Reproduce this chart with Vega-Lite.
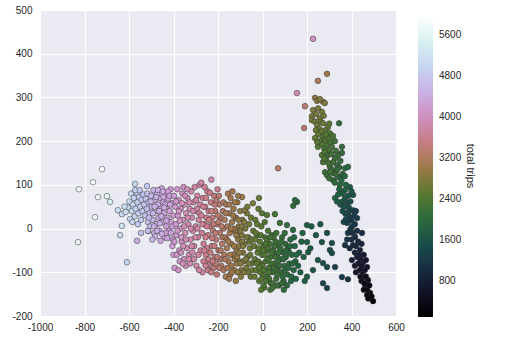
{
"$schema": "https://vega.github.io/schema/vega-lite/v6.json",
"autosize": {"type": "none"},
"padding": {"left": 40, "top": 10, "right": 110, "bottom": 39},
"width": 356,
"height": 306,
"background": "white",
"config": {
  "view": {"fill": "#EAEAF2", "stroke": null},
  "axis": {"domain": false, "ticks": false, "tickSize": 0, "grid": true, "gridColor": "#FFFFFF", "gridWidth": 1, "labelFont": "Liberation Sans", "labelFontSize": 10, "labelColor": "#262626", "title": null},
  "legend": {"labelFont": "Liberation Sans", "labelFontSize": 10, "labelColor": "#262626", "titleFont": "Liberation Sans", "titleFontSize": 11, "titleFontWeight": "normal", "titleColor": "#262626"}
},
"data": {"values": [
{"pc1":-721,"pc2":136,"trips":5950},{"pc1":-762,"pc2":106,"trips":5900},{"pc1":-825,"pc2":90,"trips":5850},{"pc1":-739,"pc2":72,"trips":5800},{"pc1":-699,"pc2":74,"trips":5650},{"pc1":-685,"pc2":61,"trips":5500},{"pc1":-753,"pc2":26,"trips":5800},{"pc1":-829,"pc2":-31,"trips":5750},{"pc1":-609,"pc2":-77,"trips":5000},{"pc1":-573,"pc2":102,"trips":5100},{"pc1":-519,"pc2":97,"trips":4800},{"pc1":-632,"pc2":6,"trips":5200},{"pc1":-640,"pc2":-15,"trips":5100},{"pc1":-564,"pc2":-28,"trips":4450},{"pc1":-546,"pc2":-10,"trips":4700},{"pc1":-514,"pc2":-6,"trips":4600},{"pc1":-650,"pc2":42,"trips":5200},{"pc1":-632,"pc2":33,"trips":5100},
{"pc1":-605,"pc2":48,"trips":5150},{"pc1":-598,"pc2":62,"trips":5100},{"pc1":-590,"pc2":80,"trips":5050},{"pc1":-588,"pc2":40,"trips":5100},{"pc1":-582,"pc2":55,"trips":5000},{"pc1":-578,"pc2":70,"trips":5000},{"pc1":-575,"pc2":28,"trips":5050},{"pc1":-570,"pc2":45,"trips":4950},{"pc1":-566,"pc2":82,"trips":4900},{"pc1":-562,"pc2":60,"trips":4950},{"pc1":-558,"pc2":35,"trips":4900},{"pc1":-555,"pc2":72,"trips":4850},{"pc1":-550,"pc2":50,"trips":4900},{"pc1":-546,"pc2":20,"trips":4850},{"pc1":-543,"pc2":66,"trips":4800},{"pc1":-540,"pc2":40,"trips":4800},{"pc1":-536,"pc2":78,"trips":4750},{"pc1":-532,"pc2":55,"trips":4750},{"pc1":-528,"pc2":30,"trips":4700},{"pc1":-525,"pc2":68,"trips":4700},{"pc1":-620,"pc2":50,"trips":5200},{"pc1":-615,"pc2":38,"trips":5150},{"pc1":-595,"pc2":22,"trips":5050},{"pc1":-585,"pc2":15,"trips":5000},{"pc1":-572,"pc2":88,"trips":4950},{"pc1":-560,"pc2":10,"trips":4850},{"pc1":-552,"pc2":88,"trips":4800},{"pc1":-520,"pc2":45,"trips":4650},{"pc1":-518,"pc2":80,"trips":4650},{"pc1":-515,"pc2":15,"trips":4650},
{"pc1":-512,"pc2":60,"trips":4650},{"pc1":-508,"pc2":35,"trips":4600},{"pc1":-505,"pc2":5,"trips":4600},{"pc1":-500,"pc2":75,"trips":4600},{"pc1":-497,"pc2":50,"trips":4550},{"pc1":-494,"pc2":20,"trips":4550},{"pc1":-490,"pc2":88,"trips":4550},{"pc1":-487,"pc2":-10,"trips":4500},{"pc1":-484,"pc2":65,"trips":4500},{"pc1":-480,"pc2":40,"trips":4500},{"pc1":-477,"pc2":10,"trips":4450},{"pc1":-473,"pc2":80,"trips":4450},{"pc1":-470,"pc2":55,"trips":4450},{"pc1":-467,"pc2":25,"trips":4400},{"pc1":-463,"pc2":-5,"trips":4400},{"pc1":-460,"pc2":70,"trips":4400},{"pc1":-457,"pc2":45,"trips":4400},{"pc1":-453,"pc2":92,"trips":4350},{"pc1":-450,"pc2":15,"trips":4350},{"pc1":-447,"pc2":60,"trips":4350},{"pc1":-443,"pc2":35,"trips":4350},{"pc1":-440,"pc2":-20,"trips":4300},{"pc1":-437,"pc2":80,"trips":4300},{"pc1":-433,"pc2":5,"trips":4300},{"pc1":-430,"pc2":50,"trips":4300},{"pc1":-427,"pc2":25,"trips":4250},{"pc1":-423,"pc2":68,"trips":4250},{"pc1":-420,"pc2":-5,"trips":4250},{"pc1":-417,"pc2":40,"trips":4250},{"pc1":-413,"pc2":90,"trips":4200},{"pc1":-410,"pc2":15,"trips":4200},{"pc1":-407,"pc2":58,"trips":4200},{"pc1":-403,"pc2":-25,"trips":4150},{"pc1":-400,"pc2":30,"trips":4150},{"pc1":-482,"pc2":-18,"trips":4450},{"pc1":-458,"pc2":-28,"trips":4350},{"pc1":-470,"pc2":88,"trips":4450},{"pc1":-445,"pc2":72,"trips":4350},{"pc1":-435,"pc2":-10,"trips":4300},{"pc1":-425,"pc2":85,"trips":4250},{"pc1":-495,"pc2":-25,"trips":4550},{"pc1":-515,"pc2":-5,"trips":4650},
{"pc1":-510,"pc2":25,"trips":4600},{"pc1":-502,"pc2":62,"trips":4550},{"pc1":-492,"pc2":35,"trips":4550},{"pc1":-488,"pc2":5,"trips":4500},{"pc1":-478,"pc2":72,"trips":4500},{"pc1":-474,"pc2":-5,"trips":4450},{"pc1":-465,"pc2":40,"trips":4450},{"pc1":-455,"pc2":28,"trips":4400},{"pc1":-452,"pc2":-12,"trips":4400},{"pc1":-448,"pc2":85,"trips":4400},{"pc1":-438,"pc2":55,"trips":4350},{"pc1":-432,"pc2":18,"trips":4350},{"pc1":-428,"pc2":-22,"trips":4350},{"pc1":-418,"pc2":75,"trips":4300},{"pc1":-415,"pc2":55,"trips":4300},{"pc1":-412,"pc2":-10,"trips":4300},{"pc1":-405,"pc2":5,"trips":4250},{"pc1":-462,"pc2":12,"trips":4450},{"pc1":-485,"pc2":50,"trips":4500},{"pc1":-442,"pc2":48,"trips":4400},
{"pc1":-405,"pc2":-40,"trips":4250},{"pc1":-400,"pc2":-60,"trips":4200},{"pc1":-395,"pc2":-90,"trips":4150},{"pc1":-398,"pc2":75,"trips":4200},{"pc1":-392,"pc2":50,"trips":4150},{"pc1":-390,"pc2":10,"trips":4150},{"pc1":-387,"pc2":-15,"trips":4150},{"pc1":-383,"pc2":90,"trips":4100},{"pc1":-380,"pc2":30,"trips":4100},{"pc1":-377,"pc2":65,"trips":4100},{"pc1":-374,"pc2":-50,"trips":4050},{"pc1":-370,"pc2":0,"trips":4050},{"pc1":-367,"pc2":45,"trips":4050},{"pc1":-363,"pc2":-30,"trips":4050},{"pc1":-360,"pc2":80,"trips":4000},{"pc1":-357,"pc2":20,"trips":4000},{"pc1":-353,"pc2":-70,"trips":4000},{"pc1":-350,"pc2":55,"trips":4000},{"pc1":-347,"pc2":-10,"trips":3950},{"pc1":-343,"pc2":35,"trips":3950},{"pc1":-340,"pc2":-45,"trips":3950},{"pc1":-337,"pc2":70,"trips":3950},{"pc1":-333,"pc2":10,"trips":3900},{"pc1":-330,"pc2":-60,"trips":3900},{"pc1":-327,"pc2":45,"trips":3900},{"pc1":-323,"pc2":-25,"trips":3900},{"pc1":-320,"pc2":85,"trips":3850},{"pc1":-317,"pc2":25,"trips":3850},{"pc1":-313,"pc2":-5,"trips":3850},{"pc1":-310,"pc2":60,"trips":3850},{"pc1":-307,"pc2":-40,"trips":3800},{"pc1":-303,"pc2":40,"trips":3800},{"pc1":-300,"pc2":5,"trips":3800},{"pc1":-297,"pc2":-85,"trips":3800},{"pc1":-293,"pc2":75,"trips":3750},{"pc1":-290,"pc2":-20,"trips":3750},{"pc1":-287,"pc2":20,"trips":3750},{"pc1":-283,"pc2":100,"trips":3750},{"pc1":-280,"pc2":55,"trips":3750},{"pc1":-278,"pc2":-50,"trips":3700},{"pc1":-372,"pc2":-75,"trips":4050},{"pc1":-355,"pc2":95,"trips":4000},{"pc1":-345,"pc2":-85,"trips":3950},{"pc1":-385,"pc2":-60,"trips":4100},{"pc1":-365,"pc2":-20,"trips":4050},{"pc1":-338,"pc2":90,"trips":3950},{"pc1":-325,"pc2":-80,"trips":3900},{"pc1":-315,"pc2":-55,"trips":3850},{"pc1":-305,"pc2":95,"trips":3800},{"pc1":-295,"pc2":45,"trips":3750},{"pc1":-275,"pc2":105,"trips":3750},{"pc1":-270,"pc2":-100,"trips":3750},{"pc1":-285,"pc2":-95,"trips":3750},
{"pc1":-396,"pc2":-30,"trips":4150},{"pc1":-388,"pc2":62,"trips":4100},{"pc1":-382,"pc2":-5,"trips":4100},{"pc1":-376,"pc2":40,"trips":4050},{"pc1":-372,"pc2":18,"trips":4050},{"pc1":-366,"pc2":-55,"trips":4000},{"pc1":-362,"pc2":58,"trips":4000},{"pc1":-356,"pc2":-40,"trips":3950},{"pc1":-352,"pc2":5,"trips":3950},{"pc1":-348,"pc2":75,"trips":3950},{"pc1":-344,"pc2":-25,"trips":3900},{"pc1":-336,"pc2":25,"trips":3900},{"pc1":-332,"pc2":-70,"trips":3850},{"pc1":-328,"pc2":60,"trips":3850},{"pc1":-322,"pc2":0,"trips":3850},{"pc1":-318,"pc2":-40,"trips":3800},{"pc1":-312,"pc2":40,"trips":3800},{"pc1":-308,"pc2":-70,"trips":3800},{"pc1":-302,"pc2":-20,"trips":3750},{"pc1":-298,"pc2":65,"trips":3750},{"pc1":-292,"pc2":0,"trips":3750},{"pc1":-288,"pc2":-60,"trips":3750},{"pc1":-284,"pc2":35,"trips":3700},{"pc1":-378,"pc2":-95,"trips":4050},{"pc1":-358,"pc2":-80,"trips":4000},
{"pc1":-275,"pc2":30,"trips":3700},{"pc1":-272,"pc2":-10,"trips":3700},{"pc1":-268,"pc2":70,"trips":3650},{"pc1":-265,"pc2":-35,"trips":3650},{"pc1":-262,"pc2":10,"trips":3650},{"pc1":-258,"pc2":50,"trips":3600},{"pc1":-255,"pc2":-60,"trips":3600},{"pc1":-252,"pc2":25,"trips":3600},{"pc1":-248,"pc2":85,"trips":3600},{"pc1":-245,"pc2":-15,"trips":3550},{"pc1":-242,"pc2":40,"trips":3550},{"pc1":-238,"pc2":-80,"trips":3550},{"pc1":-235,"pc2":5,"trips":3500},{"pc1":-232,"pc2":60,"trips":3500},{"pc1":-230,"pc2":112,"trips":3850},{"pc1":-228,"pc2":-40,"trips":3500},{"pc1":-225,"pc2":25,"trips":3450},{"pc1":-222,"pc2":-5,"trips":3450},{"pc1":-218,"pc2":75,"trips":3450},{"pc1":-215,"pc2":-65,"trips":3450},{"pc1":-212,"pc2":40,"trips":3400},{"pc1":-208,"pc2":-25,"trips":3400},{"pc1":-205,"pc2":10,"trips":3400},{"pc1":-202,"pc2":90,"trips":3600},{"pc1":-198,"pc2":-50,"trips":3350},{"pc1":-195,"pc2":55,"trips":3350},{"pc1":-192,"pc2":-10,"trips":3350},{"pc1":-188,"pc2":25,"trips":3300},{"pc1":-185,"pc2":-85,"trips":3300},{"pc1":-182,"pc2":-35,"trips":3300},{"pc1":-178,"pc2":40,"trips":3250},{"pc1":-175,"pc2":0,"trips":3250},{"pc1":-172,"pc2":-60,"trips":3250},{"pc1":-240,"pc2":-95,"trips":3550},{"pc1":-220,"pc2":-90,"trips":3450},{"pc1":-205,"pc2":-105,"trips":3400},{"pc1":-260,"pc2":95,"trips":3650},{"pc1":-250,"pc2":-45,"trips":3600},{"pc1":-236,"pc2":82,"trips":3550},{"pc1":-214,"pc2":55,"trips":3450},{"pc1":-226,"pc2":-22,"trips":3500},{"pc1":-200,"pc2":30,"trips":3350},{"pc1":-190,"pc2":-70,"trips":3300},{"pc1":-265,"pc2":-75,"trips":3650},{"pc1":-245,"pc2":-95,"trips":3600},{"pc1":-210,"pc2":-80,"trips":3400},
{"pc1":-270,"pc2":10,"trips":3700},{"pc1":-266,"pc2":50,"trips":3650},{"pc1":-262,"pc2":-50,"trips":3650},{"pc1":-256,"pc2":-20,"trips":3600},{"pc1":-254,"pc2":70,"trips":3600},{"pc1":-250,"pc2":5,"trips":3600},{"pc1":-244,"pc2":-70,"trips":3550},{"pc1":-240,"pc2":20,"trips":3550},{"pc1":-234,"pc2":-55,"trips":3500},{"pc1":-230,"pc2":40,"trips":3500},{"pc1":-224,"pc2":-75,"trips":3500},{"pc1":-220,"pc2":10,"trips":3450},{"pc1":-216,"pc2":-40,"trips":3450},{"pc1":-212,"pc2":-10,"trips":3400},{"pc1":-207,"pc2":65,"trips":3400},{"pc1":-203,"pc2":-65,"trips":3400},{"pc1":-198,"pc2":15,"trips":3350},{"pc1":-194,"pc2":-90,"trips":3350},{"pc1":-188,"pc2":-50,"trips":3300},{"pc1":-184,"pc2":5,"trips":3300},{"pc1":-180,"pc2":-20,"trips":3250},{"pc1":-176,"pc2":60,"trips":3250},{"pc1":-230,"pc2":-100,"trips":3500},{"pc1":-196,"pc2":75,"trips":3400},{"pc1":-256,"pc2":-85,"trips":3600},
{"pc1":-170,"pc2":20,"trips":3200},{"pc1":-167,"pc2":-20,"trips":3200},{"pc1":-163,"pc2":55,"trips":3150},{"pc1":-160,"pc2":-45,"trips":3150},{"pc1":-157,"pc2":5,"trips":3150},{"pc1":-153,"pc2":-75,"trips":3100},{"pc1":-150,"pc2":35,"trips":3100},{"pc1":-147,"pc2":-10,"trips":3100},{"pc1":-143,"pc2":70,"trips":3100},{"pc1":-140,"pc2":-35,"trips":3050},{"pc1":-137,"pc2":15,"trips":3050},{"pc1":-133,"pc2":-60,"trips":3050},{"pc1":-130,"pc2":45,"trips":3000},{"pc1":-127,"pc2":-95,"trips":3000},{"pc1":-123,"pc2":-5,"trips":3000},{"pc1":-120,"pc2":25,"trips":2950},{"pc1":-117,"pc2":-50,"trips":2950},{"pc1":-113,"pc2":60,"trips":2950},{"pc1":-110,"pc2":-25,"trips":2900},{"pc1":-107,"pc2":5,"trips":2900},{"pc1":-103,"pc2":-75,"trips":2900},{"pc1":-100,"pc2":40,"trips":2850},{"pc1":-97,"pc2":-110,"trips":2850},{"pc1":-93,"pc2":-15,"trips":2850},{"pc1":-90,"pc2":20,"trips":2800},{"pc1":-87,"pc2":-55,"trips":2800},{"pc1":-92,"pc2":72,"trips":3050},{"pc1":-80,"pc2":-35,"trips":2800},{"pc1":-77,"pc2":0,"trips":2750},{"pc1":-73,"pc2":-90,"trips":2750},{"pc1":-70,"pc2":35,"trips":2750},{"pc1":-67,"pc2":-65,"trips":2700},{"pc1":-63,"pc2":-20,"trips":2700},{"pc1":-60,"pc2":10,"trips":2700},{"pc1":-57,"pc2":-45,"trips":2650},{"pc1":-53,"pc2":-110,"trips":2650},{"pc1":-50,"pc2":-80,"trips":2650},{"pc1":-43,"pc2":58,"trips":2750},{"pc1":-42,"pc2":-5,"trips":2600},{"pc1":-175,"pc2":-95,"trips":3200},{"pc1":-165,"pc2":-110,"trips":3150},{"pc1":-145,"pc2":-105,"trips":3100},{"pc1":-120,"pc2":-120,"trips":2950},{"pc1":-155,"pc2":80,"trips":3150},{"pc1":-135,"pc2":85,"trips":3100},{"pc1":-115,"pc2":-80,"trips":2950},{"pc1":-95,"pc2":-95,"trips":2850},{"pc1":-125,"pc2":-70,"trips":3000},{"pc1":-105,"pc2":-40,"trips":2900},{"pc1":-85,"pc2":-75,"trips":2800},{"pc1":-79,"pc2":42,"trips":2850},{"pc1":-65,"pc2":-100,"trips":2700},{"pc1":-58,"pc2":-30,"trips":2650},{"pc1":-110,"pc2":75,"trips":2950},{"pc1":-160,"pc2":-25,"trips":3150},{"pc1":-140,"pc2":-85,"trips":3050},{"pc1":-130,"pc2":0,"trips":3000},{"pc1":-100,"pc2":-5,"trips":2850},{"pc1":-92,"pc2":-30,"trips":2800},
{"pc1":-168,"pc2":-70,"trips":3200},{"pc1":-164,"pc2":35,"trips":3150},{"pc1":-158,"pc2":-90,"trips":3150},{"pc1":-154,"pc2":-30,"trips":3100},{"pc1":-149,"pc2":55,"trips":3100},{"pc1":-145,"pc2":-60,"trips":3100},{"pc1":-142,"pc2":0,"trips":3050},{"pc1":-138,"pc2":-100,"trips":3050},{"pc1":-132,"pc2":30,"trips":3000},{"pc1":-128,"pc2":-40,"trips":3000},{"pc1":-124,"pc2":60,"trips":3000},{"pc1":-118,"pc2":-15,"trips":2950},{"pc1":-114,"pc2":-65,"trips":2950},{"pc1":-108,"pc2":20,"trips":2900},{"pc1":-104,"pc2":-55,"trips":2900},{"pc1":-98,"pc2":-80,"trips":2850},{"pc1":-94,"pc2":5,"trips":2850},{"pc1":-88,"pc2":-40,"trips":2800},{"pc1":-84,"pc2":-100,"trips":2800},{"pc1":-82,"pc2":15,"trips":2800},{"pc1":-75,"pc2":-70,"trips":2750},{"pc1":-72,"pc2":-20,"trips":2700},{"pc1":-68,"pc2":50,"trips":2750},{"pc1":-62,"pc2":-80,"trips":2700},{"pc1":-55,"pc2":-60,"trips":2650},{"pc1":-52,"pc2":25,"trips":2650},{"pc1":-48,"pc2":-25,"trips":2650},{"pc1":-46,"pc2":-95,"trips":2600},{"pc1":-112,"pc2":-100,"trips":2900},{"pc1":-150,"pc2":-115,"trips":3100},
{"pc1":-38,"pc2":-40,"trips":2600},{"pc1":-35,"pc2":-70,"trips":2600},{"pc1":-32,"pc2":20,"trips":2600},{"pc1":-28,"pc2":-95,"trips":2550},{"pc1":-25,"pc2":-15,"trips":2550},{"pc1":-22,"pc2":-55,"trips":2550},{"pc1":-18,"pc2":45,"trips":2550},{"pc1":-15,"pc2":-120,"trips":2500},{"pc1":-12,"pc2":-30,"trips":2500},{"pc1":-8,"pc2":-80,"trips":2500},{"pc1":-5,"pc2":5,"trips":2450},{"pc1":-2,"pc2":-60,"trips":2450},{"pc1":-16,"pc2":70,"trips":2600},{"pc1":-2,"pc2":35,"trips":2450},{"pc1":2,"pc2":-105,"trips":2450},{"pc1":5,"pc2":-40,"trips":2400},{"pc1":8,"pc2":-135,"trips":2400},{"pc1":12,"pc2":-20,"trips":2400},{"pc1":15,"pc2":-75,"trips":2400},{"pc1":18,"pc2":-50,"trips":2350},{"pc1":20,"pc2":31,"trips":2400},{"pc1":22,"pc2":-110,"trips":2350},{"pc1":25,"pc2":-5,"trips":2350},{"pc1":28,"pc2":-90,"trips":2300},{"pc1":32,"pc2":-35,"trips":2300},{"pc1":35,"pc2":-65,"trips":2300},{"pc1":38,"pc2":-125,"trips":2300},{"pc1":42,"pc2":-15,"trips":2250},{"pc1":45,"pc2":-100,"trips":2250},{"pc1":48,"pc2":-50,"trips":2250},{"pc1":52,"pc2":-80,"trips":2200},{"pc1":56,"pc2":33,"trips":2300},{"pc1":58,"pc2":-30,"trips":2200},{"pc1":62,"pc2":-115,"trips":2200},{"pc1":65,"pc2":-60,"trips":2150},{"pc1":68,"pc2":-90,"trips":2150},{"pc1":72,"pc2":-40,"trips":2150},{"pc1":75,"pc2":-130,"trips":2100},{"pc1":78,"pc2":13,"trips":2200},{"pc1":82,"pc2":-70,"trips":2100},{"pc1":85,"pc2":-100,"trips":2100},{"pc1":88,"pc2":-20,"trips":2100},{"pc1":92,"pc2":-55,"trips":2050},{"pc1":95,"pc2":-120,"trips":2050},{"pc1":98,"pc2":-85,"trips":2050},{"pc1":102,"pc2":-35,"trips":2050},{"pc1":105,"pc2":-65,"trips":2000},{"pc1":110,"pc2":8,"trips":2100},{"pc1":112,"pc2":-105,"trips":2000},{"pc1":115,"pc2":-45,"trips":2000},{"pc1":120,"pc2":-80,"trips":1950},{"pc1":125,"pc2":-25,"trips":2000},{"pc1":128,"pc2":-120,"trips":1900},{"pc1":132,"pc2":-60,"trips":1950},{"pc1":137,"pc2":-3,"trips":2000},{"pc1":140,"pc2":-95,"trips":1900},{"pc1":145,"pc2":-40,"trips":1900},{"pc1":148,"pc2":-75,"trips":1900},{"pc1":138,"pc2":52,"trips":2050},{"pc1":155,"pc2":61,"trips":2000},{"pc1":-30,"pc2":-10,"trips":2550},{"pc1":-10,"pc2":-100,"trips":2500},{"pc1":10,"pc2":-60,"trips":2400},{"pc1":30,"pc2":-115,"trips":2300},{"pc1":50,"pc2":-20,"trips":2250},{"pc1":70,"pc2":-75,"trips":2150},{"pc1":90,"pc2":-110,"trips":2050},{"pc1":0,"pc2":-85,"trips":2450},{"pc1":60,"pc2":-95,"trips":2200},{"pc1":40,"pc2":-80,"trips":2250},{"pc1":20,"pc2":-25,"trips":2350},{"pc1":80,"pc2":-45,"trips":2100},{"pc1":100,"pc2":-10,"trips":2100},{"pc1":120,"pc2":-55,"trips":2000},{"pc1":-20,"pc2":-75,"trips":2500},{"pc1":5,"pc2":-130,"trips":2400},{"pc1":35,"pc2":-140,"trips":2300},{"pc1":65,"pc2":-130,"trips":2150},{"pc1":110,"pc2":-130,"trips":2000},{"pc1":130,"pc2":-110,"trips":1950},{"pc1":150,"pc2":-115,"trips":1850},{"pc1":160,"pc2":-85,"trips":1850},{"pc1":165,"pc2":-55,"trips":1850},{"pc1":170,"pc2":-100,"trips":1800},
{"pc1":-36,"pc2":-110,"trips":2600},{"pc1":-33,"pc2":-25,"trips":2600},{"pc1":-26,"pc2":-80,"trips":2550},{"pc1":-24,"pc2":10,"trips":2550},{"pc1":-18,"pc2":-45,"trips":2500},{"pc1":-14,"pc2":-90,"trips":2500},{"pc1":-8,"pc2":-15,"trips":2450},{"pc1":-4,"pc2":-115,"trips":2450},{"pc1":2,"pc2":-50,"trips":2400},{"pc1":6,"pc2":-95,"trips":2400},{"pc1":10,"pc2":15,"trips":2400},{"pc1":14,"pc2":-35,"trips":2350},{"pc1":16,"pc2":-120,"trips":2350},{"pc1":24,"pc2":-70,"trips":2300},{"pc1":26,"pc2":-45,"trips":2300},{"pc1":30,"pc2":-100,"trips":2300},{"pc1":36,"pc2":-20,"trips":2250},{"pc1":40,"pc2":-55,"trips":2250},{"pc1":44,"pc2":-125,"trips":2250},{"pc1":50,"pc2":-90,"trips":2200},{"pc1":54,"pc2":-40,"trips":2200},{"pc1":58,"pc2":-65,"trips":2200},{"pc1":62,"pc2":-10,"trips":2200},{"pc1":66,"pc2":-105,"trips":2150},{"pc1":72,"pc2":-55,"trips":2150},{"pc1":76,"pc2":-85,"trips":2150},{"pc1":84,"pc2":-30,"trips":2100},{"pc1":88,"pc2":-125,"trips":2100},{"pc1":94,"pc2":-70,"trips":2050},{"pc1":100,"pc2":-95,"trips":2050},{"pc1":106,"pc2":-50,"trips":2000},{"pc1":116,"pc2":-90,"trips":2000},{"pc1":124,"pc2":-40,"trips":1950},{"pc1":134,"pc2":-80,"trips":1950},{"pc1":142,"pc2":-20,"trips":1900},{"pc1":152,"pc2":-60,"trips":1900},{"pc1":-6,"pc2":-140,"trips":2450},{"pc1":46,"pc2":-135,"trips":2250},{"pc1":96,"pc2":-140,"trips":2050},
{"pc1":200,"pc2":8,"trips":1800},{"pc1":175,"pc2":-30,"trips":1850},{"pc1":185,"pc2":-65,"trips":1800},{"pc1":200,"pc2":-31,"trips":1750},{"pc1":205,"pc2":-54,"trips":1750},{"pc1":215,"pc2":-45,"trips":1700},{"pc1":249,"pc2":-72,"trips":1650},{"pc1":240,"pc2":-15,"trips":1700},{"pc1":227,"pc2":-95,"trips":1650},{"pc1":267,"pc2":-31,"trips":1600},{"pc1":312,"pc2":-33,"trips":1500},{"pc1":303,"pc2":-49,"trips":1500},{"pc1":312,"pc2":-56,"trips":1450},{"pc1":272,"pc2":-79,"trips":1550},{"pc1":290,"pc2":-88,"trips":1450},{"pc1":326,"pc2":-88,"trips":1350},{"pc1":357,"pc2":-111,"trips":1200},{"pc1":384,"pc2":-116,"trips":1100},{"pc1":272,"pc2":-125,"trips":1400},{"pc1":290,"pc2":-136,"trips":1350},{"pc1":260,"pc2":10,"trips":1700},{"pc1":290,"pc2":-10,"trips":1550},{"pc1":200,"pc2":-110,"trips":1750},{"pc1":180,"pc2":-10,"trips":1850},{"pc1":220,"pc2":5,"trips":1750},{"pc1":190,"pc2":-120,"trips":1750},{"pc1":146,"pc2":65,"trips":2000},
{"pc1":227,"pc2":434,"trips":4000},{"pc1":290,"pc2":354,"trips":3000},{"pc1":249,"pc2":338,"trips":3200},{"pc1":155,"pc2":310,"trips":3900},{"pc1":191,"pc2":280,"trips":3400},{"pc1":187,"pc2":230,"trips":3300},{"pc1":70,"pc2":138,"trips":3300},{"pc1":344,"pc2":241,"trips":2100},
{"pc1":236,"pc2":299,"trips":2900},{"pc1":245,"pc2":292,"trips":2900},{"pc1":272,"pc2":290,"trips":2800},{"pc1":280,"pc2":287,"trips":2800},{"pc1":258,"pc2":296,"trips":2850},
{"pc1":227,"pc2":271,"trips":2800},{"pc1":267,"pc2":267,"trips":2700},{"pc1":222,"pc2":257,"trips":2750},{"pc1":258,"pc2":253,"trips":2700},{"pc1":222,"pc2":248,"trips":2750},{"pc1":250,"pc2":275,"trips":2750},{"pc1":240,"pc2":262,"trips":2750},{"pc1":275,"pc2":258,"trips":2650},{"pc1":235,"pc2":245,"trips":2700},{"pc1":262,"pc2":244,"trips":2650},
{"pc1":245,"pc2":237,"trips":2650},{"pc1":272,"pc2":241,"trips":2600},{"pc1":294,"pc2":232,"trips":2550},{"pc1":256,"pc2":228,"trips":2600},{"pc1":282,"pc2":225,"trips":2550},{"pc1":265,"pc2":222,"trips":2550},{"pc1":240,"pc2":225,"trips":2600},{"pc1":300,"pc2":240,"trips":2500},{"pc1":250,"pc2":215,"trips":2550},
{"pc1":236,"pc2":207,"trips":2550},{"pc1":272,"pc2":210,"trips":2450},{"pc1":303,"pc2":218,"trips":2400},{"pc1":317,"pc2":212,"trips":2350},{"pc1":249,"pc2":187,"trips":2450},{"pc1":290,"pc2":191,"trips":2350},{"pc1":312,"pc2":187,"trips":2300},{"pc1":357,"pc2":187,"trips":2100},{"pc1":260,"pc2":200,"trips":2450},{"pc1":282,"pc2":203,"trips":2400},{"pc1":295,"pc2":208,"trips":2400},{"pc1":268,"pc2":192,"trips":2400},{"pc1":305,"pc2":198,"trips":2350},{"pc1":278,"pc2":182,"trips":2350},{"pc1":325,"pc2":200,"trips":2250},{"pc1":300,"pc2":178,"trips":2300},{"pc1":246,"pc2":198,"trips":2500},{"pc1":285,"pc2":215,"trips":2450},
{"pc1":357,"pc2":173,"trips":2100},{"pc1":267,"pc2":168,"trips":2400},{"pc1":294,"pc2":168,"trips":2300},{"pc1":326,"pc2":161,"trips":2200},{"pc1":272,"pc2":152,"trips":2350},{"pc1":303,"pc2":141,"trips":2200},{"pc1":335,"pc2":145,"trips":2150},{"pc1":371,"pc2":138,"trips":2000},{"pc1":384,"pc2":141,"trips":1950},{"pc1":310,"pc2":170,"trips":2250},{"pc1":285,"pc2":158,"trips":2300},{"pc1":318,"pc2":152,"trips":2200},{"pc1":340,"pc2":168,"trips":2150},{"pc1":296,"pc2":150,"trips":2250},{"pc1":330,"pc2":178,"trips":2200},{"pc1":280,"pc2":175,"trips":2350},{"pc1":350,"pc2":155,"trips":2100},{"pc1":312,"pc2":135,"trips":2150},{"pc1":278,"pc2":160,"trips":2400},{"pc1":345,"pc2":140,"trips":2100},
{"pc1":281,"pc2":129,"trips":2250},{"pc1":317,"pc2":127,"trips":2150},{"pc1":348,"pc2":118,"trips":2050},{"pc1":290,"pc2":122,"trips":2200},{"pc1":317,"pc2":111,"trips":2100},{"pc1":339,"pc2":118,"trips":2050},{"pc1":348,"pc2":100,"trips":2000},{"pc1":330,"pc2":125,"trips":2100},{"pc1":360,"pc2":125,"trips":2000},{"pc1":300,"pc2":115,"trips":2150},{"pc1":325,"pc2":105,"trips":2050},{"pc1":355,"pc2":110,"trips":1950},{"pc1":370,"pc2":120,"trips":1950},{"pc1":336,"pc2":135,"trips":2100},{"pc1":305,"pc2":130,"trips":2200},
{"pc1":371,"pc2":88,"trips":1800},{"pc1":393,"pc2":95,"trips":1750},{"pc1":407,"pc2":77,"trips":1650},{"pc1":326,"pc2":70,"trips":1850},{"pc1":357,"pc2":61,"trips":1700},{"pc1":380,"pc2":58,"trips":1550},{"pc1":345,"pc2":90,"trips":1850},{"pc1":360,"pc2":80,"trips":1750},{"pc1":385,"pc2":75,"trips":1650},{"pc1":340,"pc2":78,"trips":1800},{"pc1":370,"pc2":68,"trips":1650},{"pc1":395,"pc2":62,"trips":1500},{"pc1":350,"pc2":55,"trips":1650},{"pc1":375,"pc2":100,"trips":1850},{"pc1":365,"pc2":50,"trips":1550},{"pc1":400,"pc2":85,"trips":1650},{"pc1":335,"pc2":62,"trips":1750},{"pc1":388,"pc2":48,"trips":1500},
{"pc1":407,"pc2":42,"trips":1400},{"pc1":371,"pc2":35,"trips":1450},{"pc1":393,"pc2":26,"trips":1350},{"pc1":425,"pc2":24,"trips":1250},{"pc1":380,"pc2":13,"trips":1300},{"pc1":402,"pc2":4,"trips":1200},{"pc1":390,"pc2":40,"trips":1400},{"pc1":412,"pc2":30,"trips":1300},{"pc1":360,"pc2":40,"trips":1500},{"pc1":385,"pc2":30,"trips":1350},{"pc1":400,"pc2":18,"trips":1250},{"pc1":375,"pc2":22,"trips":1400},{"pc1":415,"pc2":10,"trips":1200},{"pc1":395,"pc2":-2,"trips":1150},{"pc1":420,"pc2":40,"trips":1300},{"pc1":365,"pc2":15,"trips":1400},
{"pc1":447,"pc2":-10,"trips":1050},{"pc1":384,"pc2":-10,"trips":1150},{"pc1":416,"pc2":-19,"trips":1050},{"pc1":371,"pc2":-38,"trips":1100},{"pc1":407,"pc2":-38,"trips":950},{"pc1":438,"pc2":-49,"trips":850},{"pc1":400,"pc2":-25,"trips":1050},{"pc1":425,"pc2":-5,"trips":1100},{"pc1":430,"pc2":-30,"trips":950},{"pc1":392,"pc2":-45,"trips":1000},{"pc1":415,"pc2":-55,"trips":900},{"pc1":445,"pc2":-35,"trips":900},{"pc1":405,"pc2":-10,"trips":1100},{"pc1":380,"pc2":-25,"trips":1150},{"pc1":420,"pc2":-40,"trips":950},
{"pc1":425,"pc2":-65,"trips":800},{"pc1":402,"pc2":-72,"trips":800},{"pc1":452,"pc2":-77,"trips":650},{"pc1":470,"pc2":-88,"trips":550},{"pc1":438,"pc2":-95,"trips":600},{"pc1":415,"pc2":-85,"trips":750},{"pc1":440,"pc2":-70,"trips":700},{"pc1":455,"pc2":-60,"trips":700},{"pc1":430,"pc2":-80,"trips":700},{"pc1":460,"pc2":-95,"trips":550},{"pc1":445,"pc2":-85,"trips":650},{"pc1":420,"pc2":-100,"trips":650},{"pc1":450,"pc2":-105,"trips":500},{"pc1":465,"pc2":-72,"trips":600},{"pc1":435,"pc2":-60,"trips":800},
{"pc1":452,"pc2":-111,"trips":450},{"pc1":474,"pc2":-118,"trips":400},{"pc1":461,"pc2":-129,"trips":350},{"pc1":483,"pc2":-147,"trips":250},{"pc1":470,"pc2":-152,"trips":250},{"pc1":497,"pc2":-166,"trips":150},{"pc1":470,"pc2":-140,"trips":300},{"pc1":445,"pc2":-120,"trips":450},{"pc1":480,"pc2":-130,"trips":300},{"pc1":455,"pc2":-140,"trips":300},{"pc1":465,"pc2":-110,"trips":400},{"pc1":490,"pc2":-155,"trips":200},{"pc1":475,"pc2":-160,"trips":200},{"pc1":440,"pc2":-110,"trips":500},{"pc1":458,"pc2":-125,"trips":350}
]},
"mark": {"type": "point", "shape": "circle", "filled": true, "size": 32, "opacity": 1, "stroke": "#333333", "strokeWidth": 0.5},
"encoding": {
  "x": {"field": "pc1", "type": "quantitative", "scale": {"domain": [-1000, 600], "nice": false, "zero": false}, "axis": {"values": [-1000,-800,-600,-400,-200,0,200,400,600], "labelPadding": 6, "labelFlush": false, "labelExpr": "'' + datum.value"}},
  "y": {"field": "pc2", "type": "quantitative", "scale": {"domain": [-200, 500], "nice": false, "zero": false}, "axis": {"values": [-200,-100,0,100,200,300,400,500], "labelPadding": 8, "labelFlush": false, "labelExpr": "'' + datum.value"}},
  "color": {"field": "trips", "type": "quantitative", "scale": {"domain": [100, 6000], "range": ["#000000","#1a1530","#163d4e","#1f6642","#54792f","#a07949","#d07e93","#cf9cda","#c1caf3","#d2eeef","#ffffff"], "interpolate": "rgb"}, "legend": {"title": "total trips", "orient": "none", "legendX": 378, "legendY": 5, "direction": "vertical", "gradientLength": 302, "gradientThickness": 15, "gradientStrokeWidth": 0, "values": [800,1600,2400,3200,4000,4800,5600], "labelExpr": "'' + datum.value", "labelOffset": 6, "titleOrient": "right", "titleAnchor": "middle", "titlePadding": 4, "encode": {"title": {"update": {"angle": {"value": 270}}}}}}
}
}
